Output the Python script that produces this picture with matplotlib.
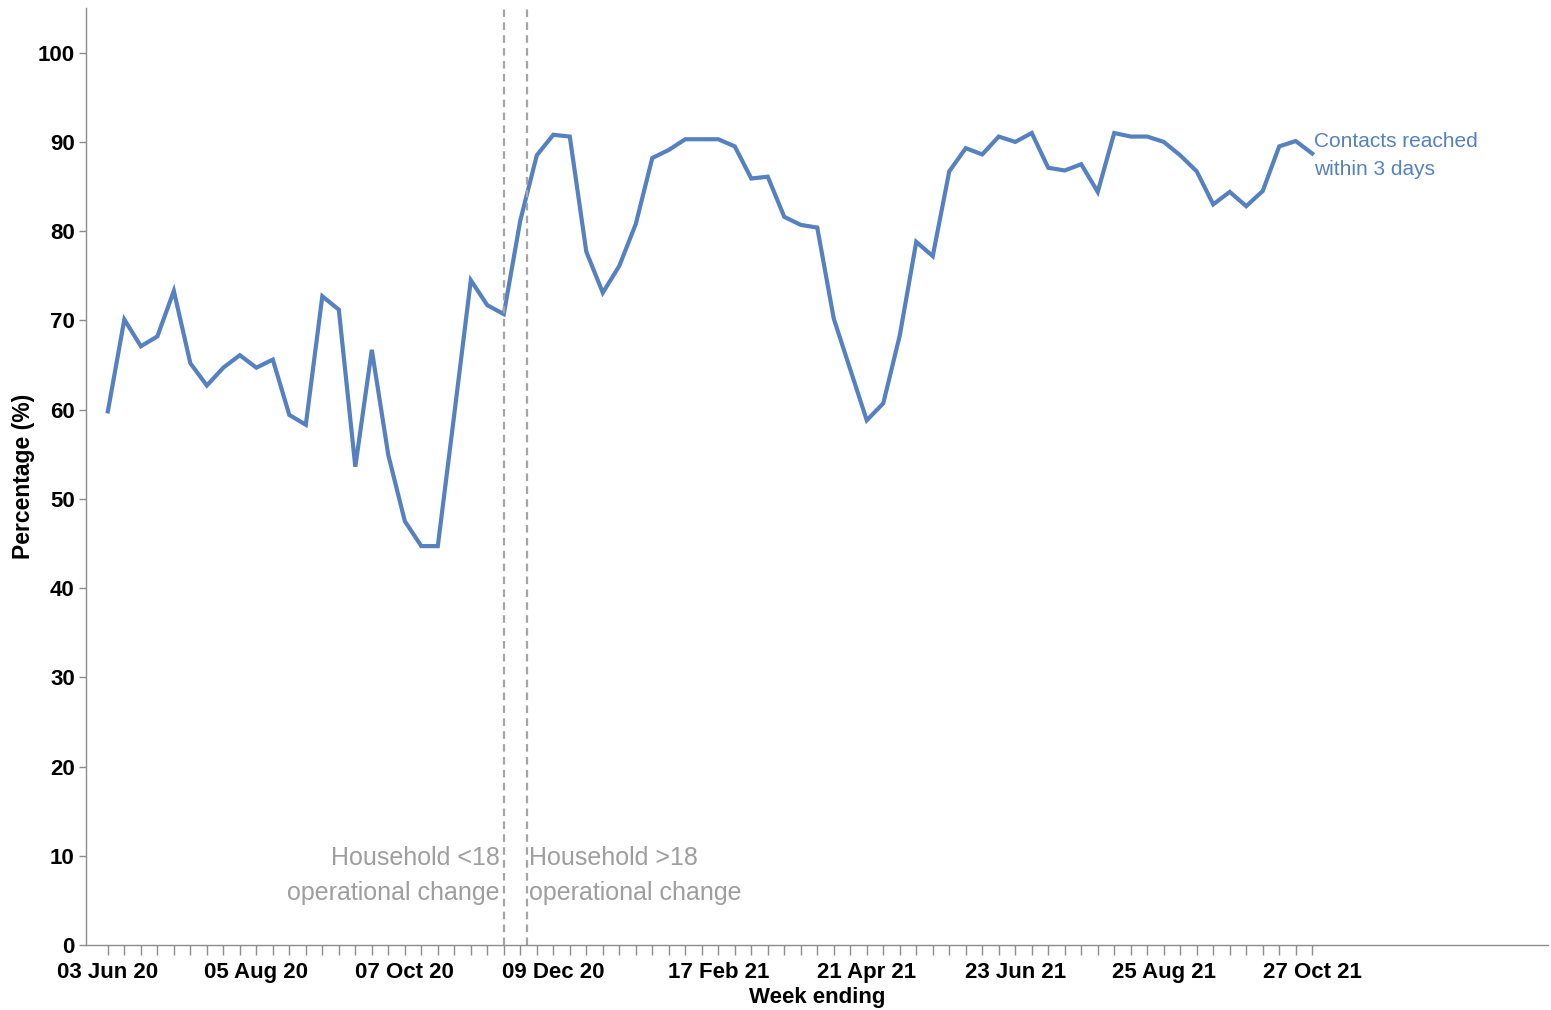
import matplotlib
matplotlib.use("Agg")
import matplotlib.pyplot as plt
import matplotlib.dates as mdates
import numpy as np
import pandas as pd

plt.rcParams['font.family'] = ['Liberation Sans', 'DejaVu Sans']

# weekly data, week ending 03 Jun 20 .. 27 Oct 21
weeks = pd.date_range('2020-06-03', periods=74, freq='7D')
reached_3d = [
    59.8, 70.1, 67.1, 68.2, 73.3, 65.2, 62.7, 64.7, 66.1, 64.7,
    65.6, 59.4, 58.3, 72.7, 71.2, 53.6, 66.7, 54.9, 47.5, 44.7,
    44.7, 59.5, 74.5, 71.7, 70.7, 81.2, 88.5, 90.8, 90.6, 77.7,
    73.1, 76.1, 80.8, 88.2, 89.1, 90.3, 90.3, 90.3, 89.5, 85.9,
    86.1, 81.6, 80.7, 80.4, 70.2, 64.5, 58.8, 60.7, 68.3, 78.8,
    77.2, 86.7, 89.3, 88.6, 90.6, 90.0, 91.0, 87.1, 86.8, 87.5,
    84.4, 91.0, 90.6, 90.6, 90.0, 88.5, 86.7, 83.0, 84.4, 82.8,
    84.5, 89.5, 90.1, 88.7,
]
tick_labels = ['03 Jun 20', '05 Aug 20', '07 Oct 20', '09 Dec 20', '17 Feb 21',
               '21 Apr 21', '23 Jun 21', '25 Aug 21', '27 Oct 21']
change_dates = [pd.Timestamp('2020-11-18'), pd.Timestamp('2020-11-28')]
change_labels = ['Household <18\noperational change', 'Household >18\noperational change']

blue = '#5581C0'
grey = '#9E9E9E'
axis_grey = '#8C8C8C'

fig = plt.figure(figsize=(15.51, 10.10), dpi=100)
ax = fig.add_axes([0.0554, 0.0644, 0.9426, 0.9276])

ax.plot(weeks, reached_3d, color=blue, lw=3, solid_joinstyle='miter')

for d in change_dates:
    ax.axvline(d, color='#A5A5A5', lw=1.6, dashes=(3.4, 2.4))

ax.annotate(change_labels[0], xy=(change_dates[0], 7.8), xytext=(-3, 0),
            textcoords='offset points', ha='right', va='center',
            fontsize=18, color=grey, linespacing=1.55)
ax.annotate(change_labels[1], xy=(change_dates[1], 7.8), xytext=(1, 0),
            textcoords='offset points', ha='left', va='center',
            fontsize=18, color=grey, linespacing=1.55)

ax.annotate('Contacts reached\nwithin 3 days', xy=(weeks[-1], 88.5), xytext=(1, 0),
            textcoords='offset points', ha='left', va='center',
            fontsize=15, color=blue, linespacing=1.6)

# axes
x0 = mdates.date2num(weeks[0])
ax.set_xlim(x0 - 9.3, x0 + 611)
ax.set_ylim(0, 105)
ax.set_yticks(np.arange(0, 101, 10))

labels_by_date = {pd.Timestamp(pd.to_datetime(t, format='%d %b %y')): t for t in tick_labels}
ax.set_xticks(weeks)
ax.set_xticklabels([labels_by_date.get(w, '') for w in weeks])

for s in ['top', 'right']:
    ax.spines[s].set_visible(False)
for s in ['left', 'bottom']:
    ax.spines[s].set_color(axis_grey)
    ax.spines[s].set_linewidth(1.0)

ax.tick_params(axis='x', direction='out', length=7, width=1, color=axis_grey, pad=5)
ax.tick_params(axis='y', direction='out', length=5, width=1, color=axis_grey, pad=3)
for lab in ax.get_xticklabels() + ax.get_yticklabels():
    lab.set_fontsize(16)
    lab.set_fontweight('bold')

ax.set_xlabel('Week ending', fontsize=16, fontweight='bold', labelpad=3)
ax.set_ylabel('Percentage (%)', fontsize=16.5, fontweight='bold', labelpad=2)

fig.savefig('out.png', dpi=100)
